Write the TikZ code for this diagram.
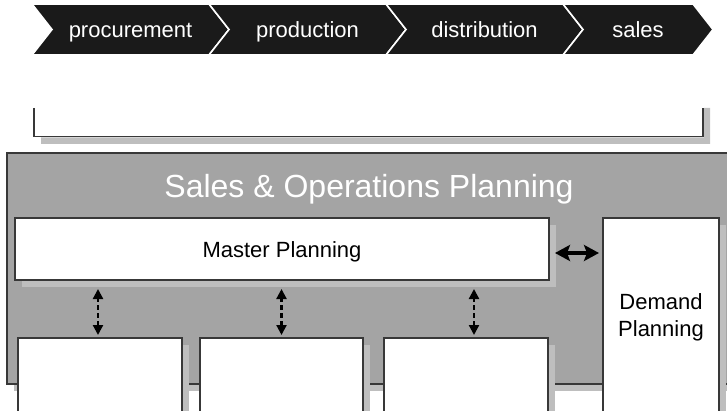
\documentclass[tikz,border=0pt]{standalone}
\usepackage{fontspec}
\setmainfont{Liberation Sans}
\usetikzlibrary{shapes,arrows,arrows.meta,shadows}
\definecolor{chevronblack}{HTML}{1A1A1A}
\definecolor{sopgray}{HTML}{A4A4A4}
\definecolor{framegray}{HTML}{383838}
\definecolor{shadegray}{HTML}{BEBEBE}
\newcommand{\chevron}[4]{
  \fill[chevronblack, draw=white, line width=1.6pt]
    (#2,4) -- (#3,4) -- (#3+20,29.5) -- (#3,55) -- (#2,55) -- (#2+20,29.5) -- cycle;
  \node[steptext] (#1) at ({(#2+#3)/2+10},38) {#4};
}
\tikzset{
  steptext/.style  = {text=white, anchor=base, font=\fontsize{22}{26}\selectfont},
  planbox/.style   = {draw=framegray, line width=1.3pt, fill=white,
                      inner sep=0pt, outer sep=0pt, anchor=north west,
                      drop shadow={shadow xshift=7pt, shadow yshift=-7pt,
                                   fill=shadegray, opacity=1}},
  boxtext/.style   = {text=black, font=\fontsize{22}{27}\selectfont}
}

\begin{document}
\begin{tikzpicture}[x=1pt, y=-1pt]
  \useasboundingbox (0,0) rectangle (727,411);
  \clip (0,0) rectangle (727,411);
  % value chain
  \chevron{proc}{32}{209}{procurement}
  \chevron{prod}{209}{386}{production}
  \chevron{dist}{386}{563}{distribution}
  \chevron{sale}{563}{693}{sales}
  % bracket below the chain
  \fill[shadegray] (704,108) -- (710,108) -- (710,144) -- (41,144)
    -- (41,137.5) -- (704,137.5) -- cycle;
  \draw[framegray, line width=1.6pt] (34,108) -- (34,136.5) -- (703,136.5) -- (703,108);
  % planning matrix
  \node[planbox, fill=sopgray, line width=1.6pt,
        minimum width=740pt, minimum height=231pt] (sop) at (7,153) {};
  \node[text=white, anchor=base, font=\fontsize{32}{37}\selectfont]
    (soptitle) at (369,198) {Sales \& Operations Planning};
  \node[planbox, minimum width=534pt, minimum height=62pt] (master) at (15,218) {};
  \node[boxtext, anchor=base] (mastertext) at (282,258) {Master Planning};
  \node[planbox, minimum width=116pt, minimum height=220pt] (demand) at (603,218) {};
  \node[boxtext, align=center] (demandtext) at (661,317) {Demand\\Planning};
  \node[planbox, minimum width=164pt, minimum height=100pt] (lp1) at (18,338) {};
  \node[planbox, minimum width=163pt, minimum height=100pt] (lp2) at (200,338) {};
  \node[planbox, minimum width=164pt, minimum height=100pt] (lp3) at (384,338) {};
  \tikzstyle{EdgeStyle}=[{Stealth[length=15pt,width=16pt,inset=3pt]}-{Stealth[length=15pt,width=16pt,inset=3pt]},
                         line width=3.6pt, shorten <=6pt, shorten >=4pt]
  \draw[EdgeStyle] ([yshift=-4pt]master.east) -- ([yshift=-4pt]master.east -| demand.west);
  \tikzstyle{EdgeStyle}=[{Triangle[length=10pt,width=10pt]}-{Triangle[length=10pt,width=10pt]},
                         line width=2.2pt, dash pattern=on 5pt off 3pt,
                         shorten <=3pt, shorten >=9pt]
  \draw[EdgeStyle] ([xshift=-2pt]lp1.north) -- ([xshift=-2pt]lp1.north |- master.south);
  \draw[EdgeStyle] (lp2.north) -- (lp2.north |- master.south);
  \draw[EdgeStyle] ([xshift=8pt]lp3.north) -- ([xshift=8pt]lp3.north |- master.south);
\end{tikzpicture}
\end{document}
